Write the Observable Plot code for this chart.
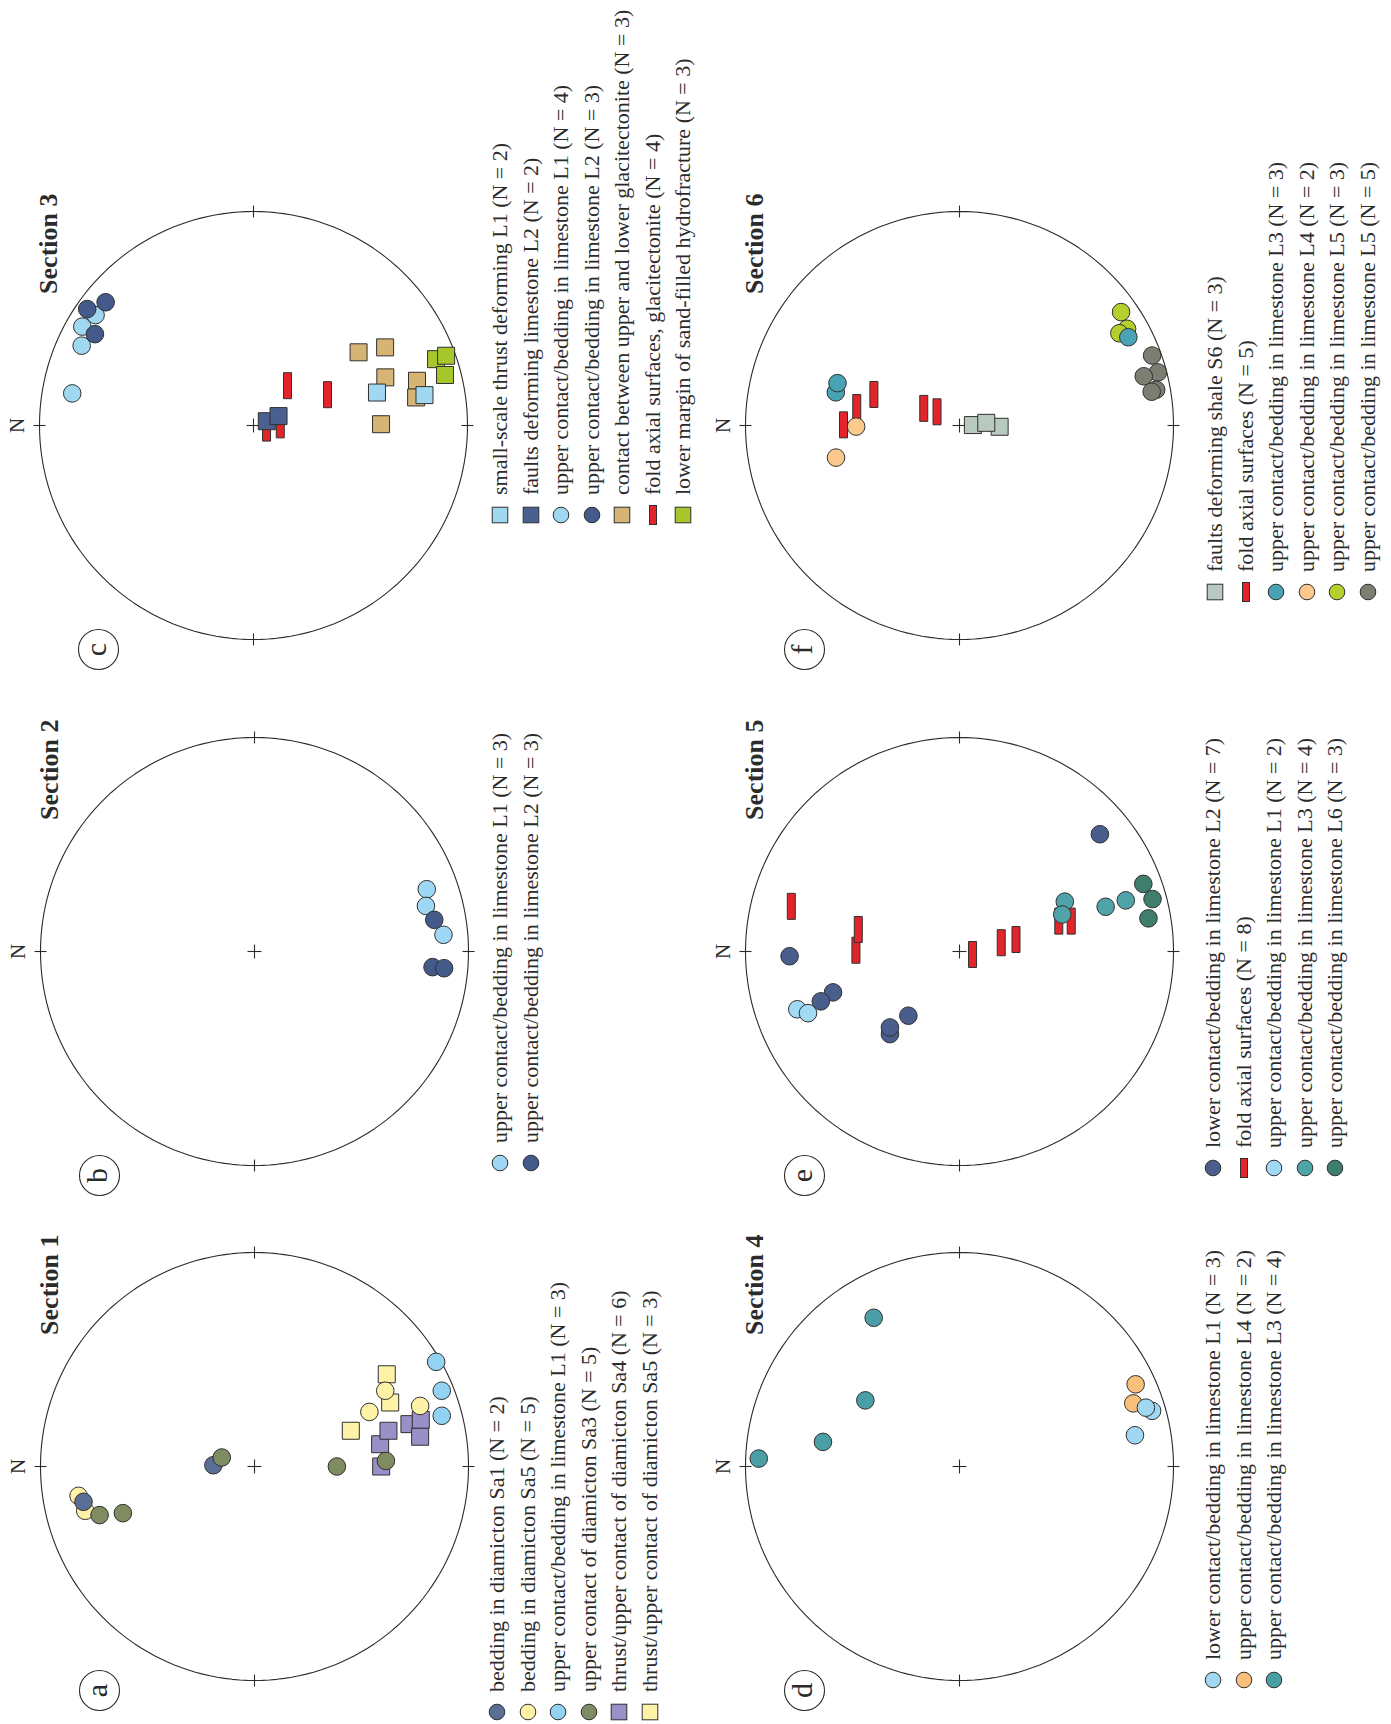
<!DOCTYPE html>
<html>
<head>
<meta charset="utf-8">
<script src="https://cdn.jsdelivr.net/npm/d3@7"></script>
<script src="https://cdn.jsdelivr.net/npm/@observablehq/plot@0.6"></script>
<style>
  html, body { margin: 0; padding: 0; background: #fff; width: 1391px; height: 1724px; overflow: hidden; }
  #fig {
    position: absolute; left: 0; top: 0; width: 1724px; height: 1391px;
    transform-origin: 0 0; transform: translate(0px, 1724px) rotate(-90deg);
    font-family: "Liberation Serif", "Times New Roman", serif; color: #2b2b2b;
  }
  .panel { position: absolute; width: 520px; height: 520px; }
  .legend { position: absolute; font-size: 22px; white-space: nowrap; }
  .legend .row { display: flex; align-items: center; height: 30.5px; }
  .legend svg { flex: none; display: block; }
  .legend span { margin-left: 10px; line-height: 1; }
</style>
</head>
<body>
<div id="fig"></div>
<script>
// ---------- DATA: stereonet positions [east, north] in units of the net radius ----------
// Section 1 (a)
const aSa1Bedding   = [[-0.165, 0.799], [0.006, 0.192]];
const aSa5Bedding   = [[-0.137, 0.822], [-0.207, 0.791], [0.354, -0.611], [0.255, -0.537], [0.283, -0.774]];
const aL1Upper      = [[0.489, -0.849], [0.354, -0.875], [0.237, -0.875]];
const aSa3Upper     = [[-0.227, 0.724], [-0.218, 0.615], [0.042, 0.153], [0.000, -0.385], [0.026, -0.614]];
const aSa4Thrust    = [[0.104, -0.587], [0.167, -0.626], [0.198, -0.724], [0.218, -0.777], [0.139, -0.774], [0.000, -0.592]];
const aSa5Thrust    = [[0.431, -0.618], [0.299, -0.634], [0.167, -0.450]];
// Section 2 (b)
const bL1Upper      = [[0.291, -0.805], [0.213, -0.801], [0.078, -0.883]];
const bL2Upper      = [[0.148, -0.840], [-0.073, -0.832], [-0.078, -0.886]];
// Section 3 (c)
const cThrustL1     = [[0.154, -0.577], [0.142, -0.799]];
const cFaultsL2     = [[0.020, -0.062], [0.044, -0.117]];
const cUpperL1      = [[0.150, 0.847], [0.373, 0.803], [0.462, 0.800], [0.516, 0.738]];
const cUpperL2      = [[0.544, 0.777], [0.576, 0.691], [0.427, 0.741]];
const cGlacitect    = [[0.342, -0.491], [0.365, -0.615], [0.225, -0.616], [0.209, -0.764], [0.131, -0.760], [0.006, -0.596]];
const cFoldAxial    = [[0.186, -0.159], [0.144, -0.346], [-0.012, -0.061], [0.003, -0.125]];
const cHydrofrac    = [[0.310, -0.853], [0.326, -0.900], [0.236, -0.895]];
// Section 4 (d)
const dLowerL1      = [[0.260, -0.900], [0.275, -0.871], [0.146, -0.820]];
const dUpperL4      = [[0.384, -0.823], [0.295, -0.812]];
const dUpperL3      = [[0.037, 0.938], [0.115, 0.638], [0.309, 0.440], [0.695, 0.401]];
// Section 5 (e)
const eLowerL2      = [[-0.022, 0.794], [-0.191, 0.591], [-0.233, 0.648], [-0.300, 0.239], [-0.386, 0.325], [-0.355, 0.325], [0.548, -0.656]];
const eFoldAxial    = [[0.211, 0.786], [0.006, 0.484], [0.103, 0.473], [-0.014, -0.061], [0.041, -0.195], [0.056, -0.264], [0.142, -0.464], [0.142, -0.522]];
const eUpperL1      = [[-0.270, 0.758], [-0.288, 0.708]];
const eUpperL3      = [[0.233, -0.492], [0.173, -0.480], [0.209, -0.683], [0.239, -0.777]];
const eUpperL6      = [[0.316, -0.859], [0.245, -0.902], [0.155, -0.883]];
// Section 6 (f)
const fFaultsS6     = [[0.002, -0.0625], [-0.006, -0.1875], [0.0125, -0.125]];
const fFoldAxial    = [[0.145, 0.400], [0.084, 0.480], [0.003, 0.542], [0.080, 0.167], [0.064, 0.105]];
const fUpperL3      = [[0.155, 0.578], [0.198, 0.570], [0.4125, -0.789]];
const fUpperL4      = [[-0.005, 0.483], [-0.150, 0.577]];
const fUpperL5green = [[0.530, -0.755], [0.452, -0.783], [0.431, -0.747]];
const fUpperL5grey  = [[0.327, -0.900], [0.248, -0.927], [0.230, -0.861], [0.167, -0.919], [0.158, -0.898]];

// ---------- styling ----------
const ink = "#2b2b2b";
const rad = Math.PI / 180;
const ring = d3.range(0, 361, 2);             // outline vertices (degrees)
const compassAzimuths = [0, 90, 180, 270];     // N, E, S, W ticks
const crossArms = [0, 90];
const squareSym = { draw(ctx) { ctx.rect(-8.5, -8.5, 17, 17); } };
const barSym    = { draw(ctx) { ctx.rect(-13, -4, 26, 8); } };

const panels = [
  { letter: "a", title: "Section 1", cx: 257, cy: 254, legendX: 12, legendY: 497, series: [
    { label: "bedding in diamicton Sa1 (N = 2)", values: aSa1Bedding, shape: "circle", fill: "#5b6e96", z: 3 },
    { label: "bedding in diamicton Sa5 (N = 5)", values: aSa5Bedding, shape: "circle", fill: "#fdf2a6", z: 2 },
    { label: "upper contact/bedding in limestone L1 (N = 3)", values: aL1Upper, shape: "circle", fill: "#92d3f3", z: 5 },
    { label: "upper contact of diamicton Sa3 (N = 5)", values: aSa3Upper, shape: "circle", fill: "#7f8c62", z: 4 },
    { label: "thrust/upper contact of diamicton Sa4 (N = 6)", values: aSa4Thrust, shape: "square", fill: "#9a8fc6", z: 1 },
    { label: "thrust/upper contact of diamicton Sa5 (N = 3)", values: aSa5Thrust, shape: "square", fill: "#fdf2a6", z: 0 } ] },
  { letter: "b", title: "Section 2", cx: 772, cy: 254, legendX: 561, legendY: 500, series: [
    { label: "upper contact/bedding in limestone L1 (N = 3)", values: bL1Upper, shape: "circle", fill: "#9fd8f4", z: 0 },
    { label: "upper contact/bedding in limestone L2 (N = 3)", values: bL2Upper, shape: "circle", fill: "#435a8a", z: 1 } ] },
  { letter: "c", title: "Section 3", cx: 1298, cy: 253, legendX: 1209, legendY: 500, series: [
    { label: "small-scale thrust deforming L1 (N = 2)", values: cThrustL1, shape: "square", fill: "#a0d8f2", z: 3 },
    { label: "faults deforming limestone L2 (N = 2)", values: cFaultsL2, shape: "square", fill: "#4a6190", z: 1 },
    { label: "upper contact/bedding in limestone L1 (N = 4)", values: cUpperL1, shape: "circle", fill: "#a0d8f2", z: 5 },
    { label: "upper contact/bedding in limestone L2 (N = 3)", values: cUpperL2, shape: "circle", fill: "#435a8a", z: 6 },
    { label: "contact between upper and lower glacitectonite (N = 3)", values: cGlacitect, shape: "square", fill: "#d6b473", z: 2 },
    { label: "fold axial surfaces, glacitectonite (N = 4)", values: cFoldAxial, shape: "bar", fill: "#e3242b", z: 0 },
    { label: "lower margin of sand-filled hydrofracture (N = 3)", values: cHydrofrac, shape: "square", fill: "#a7c62c", z: 4 } ] },
  { letter: "d", title: "Section 4", cx: 257, cy: 959, legendX: 44, legendY: 1213, series: [
    { label: "lower contact/bedding in limestone L1 (N = 3)", values: dLowerL1, shape: "circle", fill: "#a0d8f4", z: 1 },
    { label: "upper contact/bedding in limestone L4 (N = 2)", values: dUpperL4, shape: "circle", fill: "#f8c07a", z: 0 },
    { label: "upper contact/bedding in limestone L3 (N = 4)", values: dUpperL3, shape: "circle", fill: "#4a9fa6", z: 2 } ] },
  { letter: "e", title: "Section 5", cx: 772, cy: 959, legendX: 556, legendY: 1213, series: [
    { label: "lower contact/bedding in limestone L2 (N = 7)", values: eLowerL2, shape: "circle", fill: "#4a5e8d", z: 1 },
    { label: "fold axial surfaces (N = 8)", values: eFoldAxial, shape: "bar", fill: "#e3242b", z: 0 },
    { label: "upper contact/bedding in limestone L1 (N = 2)", values: eUpperL1, shape: "circle", fill: "#a2daf5", z: 2 },
    { label: "upper contact/bedding in limestone L3 (N = 4)", values: eUpperL3, shape: "circle", fill: "#4fa3a9", z: 3 },
    { label: "upper contact/bedding in limestone L6 (N = 3)", values: eUpperL6, shape: "circle", fill: "#3f7d6d", z: 4 } ] },
  { letter: "f", title: "Section 6", cx: 1298, cy: 959, legendX: 1132, legendY: 1215, series: [
    { label: "faults deforming shale S6 (N = 3)", values: fFaultsS6, shape: "square", fill: "#b8cabf", z: 1 },
    { label: "fold axial surfaces (N = 5)", values: fFoldAxial, shape: "bar", fill: "#e3242b", z: 0 },
    { label: "upper contact/bedding in limestone L3 (N = 3)", values: fUpperL3, shape: "circle", fill: "#4aa3b5", z: 4 },
    { label: "upper contact/bedding in limestone L4 (N = 2)", values: fUpperL4, shape: "circle", fill: "#fbc98b", z: 2 },
    { label: "upper contact/bedding in limestone L5 (N = 3)", values: fUpperL5green, shape: "circle", fill: "#b4d02c", z: 3 },
    { label: "upper contact/bedding in limestone L5 (N = 5)", values: fUpperL5grey, shape: "circle", fill: "#7e7d72", z: 5 } ] }
];

const R = 214, HALF = 260, M = HALF - R;

function seriesMark(s) {
  const common = { x: d => d[0], y: d => d[1], fill: s.fill, stroke: "#303030", strokeWidth: 1 };
  if (s.shape === "circle") return Plot.dot(s.values, { ...common, r: 8.8 });
  if (s.shape === "square") return Plot.dot(s.values, { ...common, r: 9, symbol: squareSym });
  return Plot.dot(s.values, { ...common, r: 9, symbol: barSym });
}

function stereonet(p) {
  const tk = 6 / R, cr = 7 / R;
  const ordered = p.series.slice().sort((a, b) => a.z - b.z);
  return Plot.plot({
    width: 2 * HALF, height: 2 * HALF, margin: M,
    x: { domain: [-1, 1], axis: null },
    y: { domain: [-1, 1], axis: null },
    style: { background: "transparent", overflow: "visible", fontFamily: "Liberation Serif, Times New Roman, serif", color: ink },
    marks: [
      Plot.line(ring, { x: a => Math.sin(a * rad), y: a => Math.cos(a * rad), stroke: ink, strokeWidth: 1.1 }),
      Plot.link(compassAzimuths, {
        x1: a => Math.sin(a * rad) * (1 - tk), y1: a => Math.cos(a * rad) * (1 - tk),
        x2: a => Math.sin(a * rad) * (1 + tk), y2: a => Math.cos(a * rad) * (1 + tk),
        stroke: ink, strokeWidth: 1.1 }),
      Plot.link(crossArms, {
        x1: a => -Math.sin(a * rad) * cr, y1: a => -Math.cos(a * rad) * cr,
        x2: a => Math.sin(a * rad) * cr, y2: a => Math.cos(a * rad) * cr,
        stroke: ink, strokeWidth: 1.1 }),
      ...ordered.map(seriesMark),
      Plot.text(["N"], { x: 0, y: 1, dy: -16, text: d => d, lineAnchor: "bottom", textAnchor: "middle", fontSize: 21, fill: ink }),
      Plot.text([p.title], { frameAnchor: "top-right", dx: 18, dy: 17, text: d => d, lineAnchor: "bottom", textAnchor: "end", fontSize: 26, fontWeight: "bold", fill: ink }),
      Plot.dot([p.letter], { x: -1, y: 1, dx: -10, dy: 59, r: 20, fill: "white", stroke: ink, strokeWidth: 1.1 }),
      Plot.text([p.letter], { x: -1, y: 1, dx: -10, dy: 57, text: d => d, lineAnchor: "middle", textAnchor: "middle", fontSize: 30, fill: ink })
    ]
  });
}

function legendSymbol(s) {
  const svg = d3.create("svg").attr("width", 20).attr("height", 20).attr("viewBox", "-10 -10 20 20");
  const st = { fill: s.fill, stroke: "#303030", "stroke-width": 1 };
  let el;
  if (s.shape === "circle") el = svg.append("circle").attr("r", 7.8);
  else if (s.shape === "square") el = svg.append("rect").attr("x", -7.8).attr("y", -7.8).attr("width", 15.6).attr("height", 15.6);
  else el = svg.append("rect").attr("x", -9.5).attr("y", -3.5).attr("width", 19).attr("height", 7);
  for (const k in st) el.attr(k, st[k]);
  return svg.node();
}

const fig = document.getElementById("fig");
for (const p of panels) {
  const div = document.createElement("div");
  div.className = "panel";
  div.style.left = (p.cx - HALF) + "px";
  div.style.top = (p.cy - HALF) + "px";
  div.appendChild(stereonet(p));
  fig.appendChild(div);

  const lg = document.createElement("div");
  lg.className = "legend";
  lg.style.left = (p.legendX - 10) + "px";
  lg.style.top = (p.legendY - 15.25) + "px";
  for (const s of p.series) {
    const row = document.createElement("div");
    row.className = "row";
    row.appendChild(legendSymbol(s));
    const t = document.createElement("span");
    t.textContent = s.label;
    row.appendChild(t);
    lg.appendChild(row);
  }
  fig.appendChild(lg);
}
</script>
</body>
</html>
